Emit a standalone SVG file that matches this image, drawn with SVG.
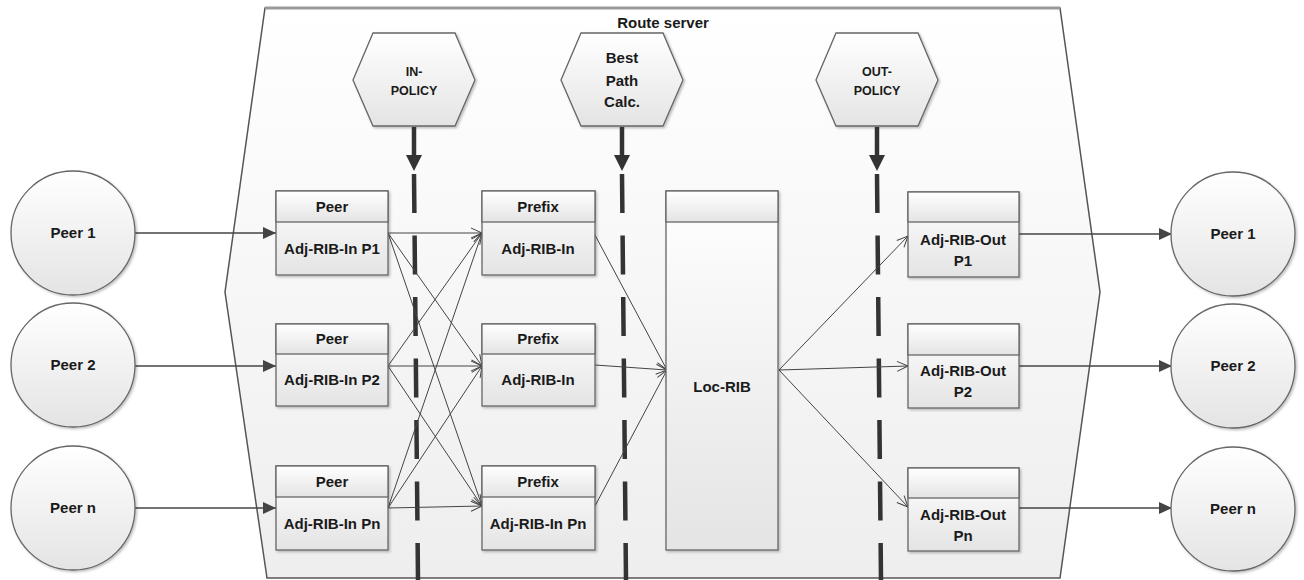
<svg xmlns="http://www.w3.org/2000/svg" width="1304" height="580" viewBox="0 0 1304 580">
<defs>
<linearGradient id="gBg" x1="0" y1="0" x2="0" y2="1"><stop offset="0" stop-color="#ffffff"/><stop offset="1" stop-color="#eeeeee"/></linearGradient>
<linearGradient id="gShape" x1="0" y1="0" x2="0" y2="1"><stop offset="0" stop-color="#ffffff"/><stop offset="1" stop-color="#e4e4e4"/></linearGradient>
<filter id="sh" x="-10%" y="-10%" width="130%" height="130%"><feDropShadow dx="1.5" dy="1.5" stdDeviation="1" flood-color="#000" flood-opacity="0.25"/></filter>
<marker id="aFill" markerUnits="userSpaceOnUse" markerWidth="14" markerHeight="12" refX="13" refY="6" orient="auto"><path d="M0,0 L13,6 L0,12 z" fill="#444"/></marker>
<marker id="aOpen" markerUnits="userSpaceOnUse" markerWidth="14" markerHeight="12" refX="12" refY="6" orient="auto"><path d="M1,1 L12,6 L1,11" fill="none" stroke="#444" stroke-width="1"/></marker>
</defs>
<style>
text{font-family:"Liberation Sans",Arial,sans-serif;font-weight:bold;fill:#1a1a1a;text-anchor:middle}
.t{font-size:15px}
.ts{font-size:12.5px}
.node{fill:url(#gShape);stroke:#666;stroke-width:1.3;filter:url(#sh)}
.hdr{fill:url(#gShape);stroke:#666;stroke-width:1.3}
.c{fill:none;stroke:#444;stroke-width:1.1}
.cin{fill:none;stroke:#444;stroke-width:1.3;marker-end:url(#aFill)}
.co{fill:none;stroke:#444;stroke-width:1;marker-end:url(#aOpen)}
.pol{stroke:#333;stroke-width:4.5;fill:none}
.dash{stroke:#333;stroke-width:4.5;fill:none;stroke-dasharray:39 22.5}
</style>

<g id="route-server">
<polygon points="265,8 1060,8 1100,292 1060,578 267,578 225,292" fill="url(#gBg)" stroke="#555" stroke-width="1.5"/>
<line x1="265" y1="8" x2="1060" y2="8" stroke="#999" stroke-width="3"/>
<text class="t" x="663" y="28">Route server</text>
</g>

<g id="in-policy">
<polygon class="node" points="353,80 373,33 455,33 475,80 455,126 373,126"/>
<text class="ts" x="414" y="76">IN-</text>
<text class="ts" x="414" y="95">POLICY</text>
</g>
<g id="best-path">
<polygon class="node" points="561,80 581,33 663,33 683,80 663,126 581,126"/>
<text class="t" x="622" y="63">Best</text>
<text class="t" x="622" y="86">Path</text>
<text class="t" x="622" y="107">Calc.</text>
</g>
<g id="out-policy">
<polygon class="node" points="816,80 836,33 918,33 938,80 918,126 836,126"/>
<text class="ts" x="877" y="76">OUT-</text>
<text class="ts" x="877" y="95">POLICY</text>
</g>

<g id="policy-lines">
<line class="pol" x1="414" y1="127" x2="414" y2="158"/>
<polygon points="406,155 422,155 414,171" fill="#333"/>
<line class="dash" x1="414" y1="174" x2="418" y2="580"/>
<line class="pol" x1="622" y1="127" x2="622" y2="158"/>
<polygon points="614,155 630,155 622,171" fill="#333"/>
<line class="dash" x1="622" y1="174" x2="626" y2="580"/>
<line class="pol" x1="877" y1="127" x2="877" y2="158"/>
<polygon points="869,155 885,155 877,171" fill="#333"/>
<line class="dash" x1="877" y1="174" x2="881" y2="580"/>
</g>

<g id="connectors">
<line class="cin" x1="135" y1="233" x2="276" y2="233"/>
<line class="cin" x1="135" y1="366" x2="276" y2="366"/>
<line class="cin" x1="135" y1="508" x2="276" y2="508"/>
<line class="co" x1="388" y1="233" x2="482" y2="233"/>
<line class="co" x1="388" y1="233" x2="482" y2="366"/>
<line class="co" x1="388" y1="233" x2="482" y2="506"/>
<line class="co" x1="388" y1="366" x2="482" y2="233"/>
<line class="co" x1="388" y1="366" x2="482" y2="366"/>
<line class="co" x1="388" y1="366" x2="482" y2="506"/>
<line class="co" x1="388" y1="508" x2="482" y2="233"/>
<line class="co" x1="388" y1="508" x2="482" y2="366"/>
<line class="co" x1="388" y1="508" x2="482" y2="506"/>
<line class="co" x1="595" y1="235" x2="667" y2="370"/>
<line class="co" x1="595" y1="365" x2="667" y2="370"/>
<line class="co" x1="595" y1="506" x2="667" y2="370"/>
<line class="co" x1="779" y1="370" x2="908" y2="236"/>
<line class="co" x1="779" y1="370" x2="908" y2="366"/>
<line class="co" x1="779" y1="370" x2="908" y2="507"/>
<line class="cin" x1="1019" y1="234" x2="1172" y2="234"/>
<line class="cin" x1="1019" y1="366" x2="1172" y2="366"/>
<line class="cin" x1="1019" y1="508" x2="1172" y2="508"/>
</g>

<g id="peer1-left"><circle class="node" cx="73" cy="233" r="62"/><text class="t" x="73" y="238">Peer 1</text></g>
<g id="peer2-left"><circle class="node" cx="73" cy="365" r="62"/><text class="t" x="73" y="370">Peer 2</text></g>
<g id="peern-left"><circle class="node" cx="73" cy="508" r="62"/><text class="t" x="73" y="513">Peer n</text></g>

<g id="peer1-right"><circle class="node" cx="1233" cy="234" r="62"/><text class="t" x="1233" y="239">Peer 1</text></g>
<g id="peer2-right"><circle class="node" cx="1233" cy="366" r="62"/><text class="t" x="1233" y="371">Peer 2</text></g>
<g id="peern-right"><circle class="node" cx="1233" cy="509" r="62"/><text class="t" x="1233" y="514">Peer n</text></g>

<g id="adj-in-p1"><rect class="node" x="276" y="191" width="112" height="84"/><rect class="hdr" x="276" y="191" width="112" height="31"/><text class="t" x="332" y="212">Peer</text><text class="t" x="332" y="254">Adj-RIB-In P1</text></g>
<g id="adj-in-p2"><rect class="node" x="276" y="324" width="112" height="82"/><rect class="hdr" x="276" y="324" width="112" height="30"/><text class="t" x="332" y="344">Peer</text><text class="t" x="332" y="385">Adj-RIB-In P2</text></g>
<g id="adj-in-pn"><rect class="node" x="276" y="466" width="112" height="84"/><rect class="hdr" x="276" y="466" width="112" height="31"/><text class="t" x="332" y="487">Peer</text><text class="t" x="332" y="529">Adj-RIB-In Pn</text></g>

<g id="prefix1"><rect class="node" x="482" y="191" width="113" height="84"/><rect class="hdr" x="482" y="191" width="113" height="31"/><text class="t" x="538" y="212">Prefix</text><text class="t" x="538" y="254">Adj-RIB-In</text></g>
<g id="prefix2"><rect class="node" x="482" y="324" width="113" height="82"/><rect class="hdr" x="482" y="324" width="113" height="30"/><text class="t" x="538" y="344">Prefix</text><text class="t" x="538" y="385">Adj-RIB-In</text></g>
<g id="prefixn"><rect class="node" x="482" y="466" width="113" height="84"/><rect class="hdr" x="482" y="466" width="113" height="31"/><text class="t" x="538" y="487">Prefix</text><text class="t" x="538" y="529">Adj-RIB-In Pn</text></g>

<g id="loc-rib"><rect class="node" x="666" y="191" width="112" height="359"/><rect class="hdr" x="666" y="191" width="112" height="31"/><text class="t" x="722" y="392">Loc-RIB</text></g>

<g id="adj-out-p1"><rect class="node" x="908" y="192" width="111" height="85"/><rect class="hdr" x="908" y="192" width="111" height="30"/><text class="t" x="963" y="245">Adj-RIB-Out</text><text class="t" x="963" y="266">P1</text></g>
<g id="adj-out-p2"><rect class="node" x="908" y="324" width="111" height="84"/><rect class="hdr" x="908" y="324" width="111" height="31"/><text class="t" x="963" y="376">Adj-RIB-Out</text><text class="t" x="963" y="397">P2</text></g>
<g id="adj-out-pn"><rect class="node" x="908" y="468" width="111" height="83"/><rect class="hdr" x="908" y="468" width="111" height="30"/><text class="t" x="963" y="520">Adj-RIB-Out</text><text class="t" x="963" y="541">Pn</text></g>
</svg>
